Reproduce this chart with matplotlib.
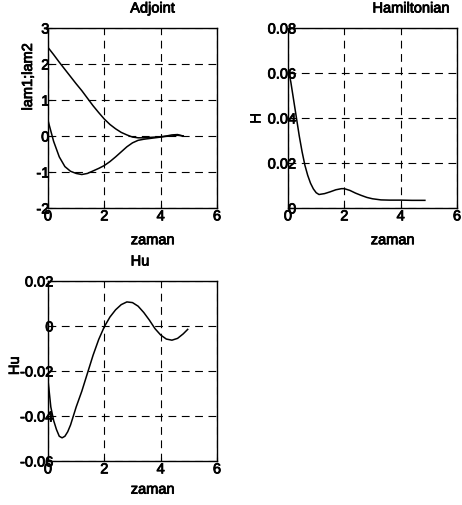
import numpy as np
import matplotlib
matplotlib.use("Agg")
import matplotlib.pyplot as plt
import matplotlib.patheffects as pe

plt.rcParams['font.family'] = ['Liberation Sans', 'DejaVu Sans']

# adjoint variables
t_lam = [0.0, 0.2, 0.4, 0.6, 0.8, 1.0, 1.2, 1.4, 1.6, 1.8, 2.0, 2.2, 2.4, 2.6,
         2.8, 3.0, 3.2, 3.4, 3.6, 3.8, 4.0, 4.2, 4.4, 4.6, 4.8]
lam1 = [2.46, 2.26, 2.05, 1.85, 1.65, 1.45, 1.26, 1.05, 0.84, 0.65, 0.47, 0.32,
        0.20, 0.10, 0.03, -0.03, -0.05, -0.05, -0.04, -0.03, -0.02, 0.0, 0.03,
        0.04, 0.0]
lam2 = [0.43, -0.15, -0.58, -0.85, -0.98, -1.04, -1.07, -1.04, -0.97, -0.90,
        -0.82, -0.71, -0.58, -0.44, -0.30, -0.19, -0.12, -0.09, -0.07, -0.05,
        -0.03, -0.01, 0.0, 0.02, 0.0]

# Hamiltonian
t_h = [0.0, 0.1, 0.2, 0.3, 0.4, 0.5, 0.6, 0.7, 0.8, 0.9, 1.0, 1.1, 1.3, 1.5,
       1.7, 1.9, 2.0, 2.2, 2.4, 2.6, 2.8, 3.0, 3.3, 3.6, 4.0, 4.4, 4.86]
H = [0.062, 0.056, 0.048, 0.040, 0.032, 0.025, 0.019, 0.0145, 0.011, 0.0085,
     0.0068, 0.006, 0.0064, 0.0072, 0.0081, 0.0086, 0.0086, 0.0078, 0.0066,
     0.0056, 0.0047, 0.0041, 0.0036, 0.0035, 0.0035, 0.0034, 0.0034]

# Hu
t_hu = [0.0, 0.1, 0.2, 0.3, 0.4, 0.5, 0.6, 0.7, 0.8, 1.0, 1.2, 1.4, 1.6, 1.8,
        2.0, 2.2, 2.4, 2.6, 2.8, 3.0, 3.2, 3.4, 3.6, 3.8, 4.0, 4.2, 4.4, 4.6,
        4.8, 4.96]
Hu = [-0.024, -0.036, -0.042, -0.046, -0.049, -0.0497, -0.049, -0.047, -0.044,
      -0.036, -0.029, -0.021, -0.013, -0.006, -0.0003, 0.004, 0.0072, 0.0095,
      0.0107, 0.0104, 0.0088, 0.006, 0.0026, -0.0012, -0.004, -0.0058, -0.0063,
      -0.0055, -0.0035, -0.0015]

W, Hpx = 462, 506
fig = plt.figure(figsize=(W / 100, Hpx / 100), dpi=100)
# scanned print look: slightly heavier text
thick = [pe.withStroke(linewidth=0.6, foreground='black')]
fs = 10.5


def make_axes(left, top, ylim, yticks, yticklabels, ypad):
    ax = fig.add_axes([left / W, 1 - (top + 180) / Hpx, 169 / W, 180 / Hpx])
    ax.set_xlim(0, 6)
    ax.set_ylim(*ylim)
    ax.set_xticks([0, 2, 4, 6])
    ax.set_yticks(yticks)
    ax.set_yticklabels(yticklabels)
    ax.tick_params(direction='in', length=3, width=0.8, labelsize=fs,
                   colors='black')
    ax.tick_params(axis='y', pad=ypad)
    ax.tick_params(axis='x', pad=1)
    for lab in ax.get_xticklabels() + ax.get_yticklabels():
        lab.set_path_effects(thick)
    ax.grid(True, color='black', linestyle=(0, (7, 5)), linewidth=0.8)
    for s in ax.spines.values():
        s.set_linewidth(1.0)
    return ax


ax1 = make_axes(48, 29, (-2, 3), [-2, -1, 0, 1, 2, 3],
                ['-2', '-1', '0', '1', '2', '3'], -1)
ax1.plot(t_lam, lam1, color='black', lw=1.1)
ax1.plot(t_lam, lam2, color='black', lw=1.1)
ax1.set_title('Adjoint', fontsize=fs, x=0.62, y=1.04, path_effects=thick)
ax1.set_xlabel('zaman', fontsize=fs, path_effects=thick)
ax1.xaxis.set_label_coords(0.62, -0.14)
ax1.set_ylabel('lam1;lam2', fontsize=fs, path_effects=thick)
ax1.yaxis.set_label_coords(-0.077, 0.73)

ax2 = make_axes(288, 29, (0, 0.08), [0, 0.02, 0.04, 0.06, 0.08],
                ['0', '0.02', '0.04', '0.06', '0.08'], -6)
ax2.plot(t_h, H, color='black', lw=1.1)
ax2.set_title('Hamiltonian', fontsize=fs, x=0.73, y=1.04, path_effects=thick)
ax2.set_xlabel('zaman', fontsize=fs, path_effects=thick)
ax2.xaxis.set_label_coords(0.62, -0.14)
ax2.set_ylabel('H', fontsize=fs, path_effects=thick)
ax2.yaxis.set_label_coords(-0.15, 0.5)

ax3 = make_axes(48, 282, (-0.06, 0.02), [-0.06, -0.04, -0.02, 0, 0.02],
                ['-0.06', '-0.04', '-0.02', '0', '0.02'], -4)
ax3.plot(t_hu, Hu, color='black', lw=1.1)
ax3.set_title('Hu', fontsize=fs, x=0.545, y=1.04, path_effects=thick)
ax3.set_xlabel('zaman', fontsize=fs, path_effects=thick)
ax3.xaxis.set_label_coords(0.62, -0.12)
ax3.set_ylabel('Hu', fontsize=fs, path_effects=thick)
ax3.yaxis.set_label_coords(-0.155, 0.53)

fig.savefig('out.png', dpi=100)
